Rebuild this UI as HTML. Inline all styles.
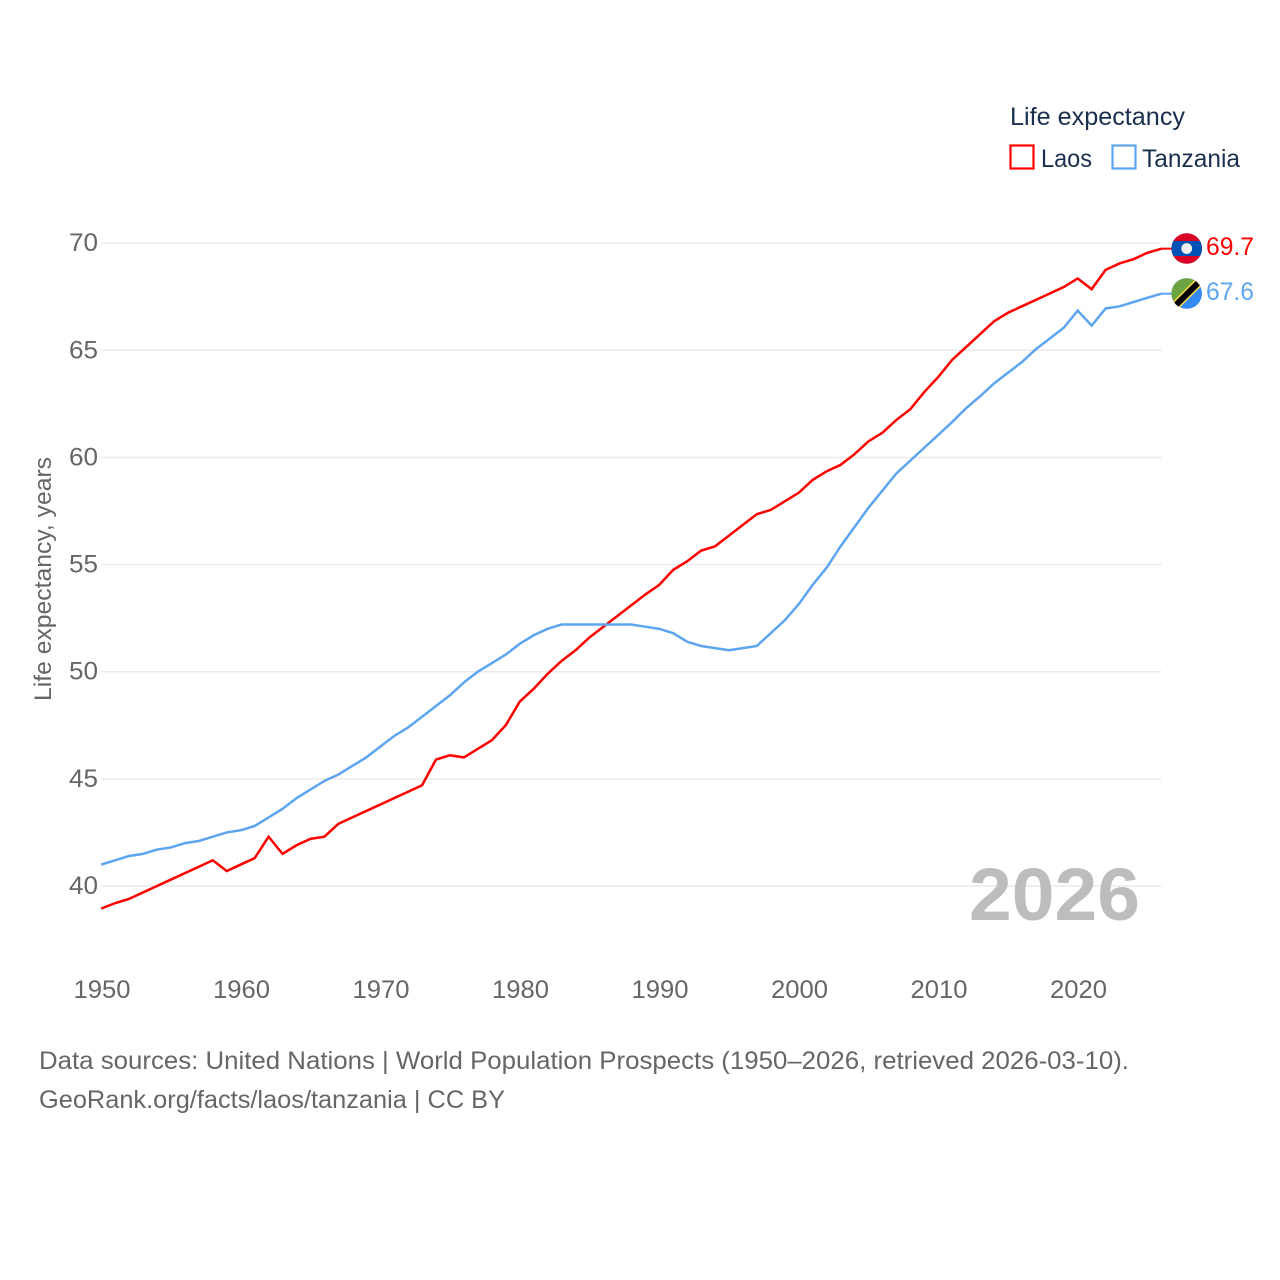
<!DOCTYPE html>
<html lang="en">
<head>
<meta charset="utf-8">
<title>Life expectancy: Laos and Tanzania</title>
<style>
  html, body { margin: 0; padding: 0; background: #fff; }
  svg { display: block; }
  text { font-family: "Liberation Sans", sans-serif; }
</style>
</head>
<body>
<svg id="chart" xmlns="http://www.w3.org/2000/svg" width="1280" height="1280" viewBox="0 0 1280 1280">
  <defs>
    <clipPath id="clip-la"><circle cx="1186.7" cy="248.5" r="15.3"></circle></clipPath>
    <clipPath id="clip-tz"><circle cx="1186.7" cy="293.5" r="15.3"></circle></clipPath>
  </defs>
  <rect x="0" y="0" width="1280" height="1280" fill="#ffffff"></rect>
  <g id="grid"></g>
  <text x="969" y="920" font-size="74" font-weight="700" fill="#bdbdbd" textLength="171" lengthAdjust="spacingAndGlyphs">2026</text>
  <g id="y-ticks"></g>
  <g id="x-ticks"></g>
  <text transform="translate(51,579) rotate(-90)" text-anchor="middle" font-size="24" fill="#666666" textLength="244" lengthAdjust="spacingAndGlyphs">Life expectancy, years</text>
  <g id="series"></g>

  <g>
    <text x="1010" y="125" font-size="25" fill="#1a2f4d" textLength="175" lengthAdjust="spacingAndGlyphs">Life expectancy</text>
    <rect x="1010.5" y="145.5" width="23" height="23" fill="none" stroke="#ff0000" stroke-width="2.2"></rect>
    <text x="1041" y="167" font-size="25" fill="#1a2f4d" textLength="51" lengthAdjust="spacingAndGlyphs">Laos</text>
    <rect x="1112.5" y="145.5" width="23" height="23" fill="none" stroke="#5da5f0" stroke-width="2.2"></rect>
    <text x="1142" y="167" font-size="25" fill="#1a2f4d" textLength="98" lengthAdjust="spacingAndGlyphs">Tanzania</text>
  </g>

  <g clip-path="url(#clip-la)">
    <rect x="1170" y="232" width="34" height="34" fill="#d80027"></rect>
    <rect x="1170" y="241" width="34" height="15" fill="#0052b4"></rect>
    <circle cx="1186.7" cy="248.5" r="5.4" fill="#f0f0f0"></circle>
  </g>
  <g clip-path="url(#clip-tz)">
    <rect x="1170" y="277" width="34" height="34" fill="#338af3"></rect>
    <polygon points="1170,277 1204,277 1170,311" fill="#6da544"></polygon>
    <line x1="1170" y1="311" x2="1204" y2="277" stroke="#ffda44" stroke-width="9"></line>
    <line x1="1170" y1="311" x2="1204" y2="277" stroke="#000000" stroke-width="6"></line>
  </g>
  <text id="value-laos" x="1206" y="255" font-size="25" fill="#ff0000" textLength="48" lengthAdjust="spacingAndGlyphs"></text>
  <text id="value-tz" x="1206" y="300" font-size="25" fill="#5da5f0" textLength="48" lengthAdjust="spacingAndGlyphs"></text>

  <text x="39" y="1069" font-size="25" fill="#666666" textLength="1090" lengthAdjust="spacingAndGlyphs">Data sources: United Nations | World Population Prospects (1950–2026, retrieved 2026-03-10).</text>
  <text x="39" y="1108" font-size="25" fill="#666666" textLength="466" lengthAdjust="spacingAndGlyphs">GeoRank.org/facts/laos/tanzania | CC BY</text>
</svg>
<script>
const years = [1950,1951,1952,1953,1954,1955,1956,1957,1958,1959,
  1960,1961,1962,1963,1964,1965,1966,1967,1968,1969,
  1970,1971,1972,1973,1974,1975,1976,1977,1978,1979,
  1980,1981,1982,1983,1984,1985,1986,1987,1988,1989,
  1990,1991,1992,1993,1994,1995,1996,1997,1998,1999,
  2000,2001,2002,2003,2004,2005,2006,2007,2008,2009,
  2010,2011,2012,2013,2014,2015,2016,2017,2018,2019,
  2020,2021,2022,2023,2024,2025,2026];
const laos = [38.95,39.2,39.4,39.7,40.0,40.3,40.6,40.9,41.2,40.7,
  41.0,41.3,42.3,41.5,41.9,42.2,42.3,42.9,43.2,43.5,
  43.8,44.1,44.4,44.7,45.9,46.1,46.0,46.4,46.8,47.5,
  48.6,49.2,49.9,50.5,51.0,51.6,52.1,52.6,53.1,53.6,
  54.05,54.75,55.15,55.65,55.85,56.35,56.85,57.35,57.55,57.95,
  58.35,58.95,59.35,59.65,60.15,60.75,61.15,61.75,62.25,63.05,
  63.75,64.55,65.15,65.75,66.35,66.75,67.05,67.35,67.65,67.95,
  68.35,67.85,68.75,69.05,69.25,69.55,69.74];
const tanzania = [41.0,41.2,41.4,41.5,41.7,41.8,42.0,42.1,42.3,42.5,
  42.6,42.8,43.2,43.6,44.1,44.5,44.9,45.2,45.6,46.0,
  46.5,47.0,47.4,47.9,48.4,48.9,49.5,50.0,50.4,50.8,
  51.3,51.7,52.0,52.2,52.2,52.2,52.2,52.2,52.2,52.1,
  52.0,51.8,51.4,51.2,51.1,51.0,51.1,51.2,51.8,52.4,
  53.15,54.05,54.85,55.85,56.75,57.65,58.45,59.25,59.85,60.45,
  61.05,61.65,62.3,62.85,63.45,63.95,64.45,65.05,65.55,66.05,
  66.85,66.15,66.95,67.05,67.25,67.45,67.64];
const yTickLabels = [40,45,50,55,60,65,70];
const xTickLabels = [1950,1960,1970,1980,1990,2000,2010,2020];

const NS = 'http://www.w3.org/2000/svg';
function xScale(year) { return 101.2 + (year - 1950) * 13.95; }
function yScale(value) { return 886 - (value - 40) * 21.43; }
function make(tag, parentId) {
  const el = document.createElementNS(NS, tag);
  document.getElementById(parentId).appendChild(el);
  return el;
}

yTickLabels.forEach(function (tick) {
  const gridLine = make('line', 'grid');
  
  
  gridLine.setAttribute('x1', xScale(1950));
  gridLine.setAttribute('x2', xScale(2026));
  gridLine.setAttribute('y1', yScale(tick));
  gridLine.setAttribute('y2', yScale(tick));
  gridLine.setAttribute('stroke', '#eaeaea');
  gridLine.setAttribute('stroke-width', '1.4');

  const label = make('text', 'y-ticks');
  
  
  label.setAttribute('x', 98);
  label.setAttribute('y', yScale(tick) + 8);
  label.setAttribute('text-anchor', 'end');
  label.setAttribute('font-size', '25');
  label.setAttribute('fill', '#666666');
  label.setAttribute('textLength', '29');
  label.setAttribute('lengthAdjust', 'spacingAndGlyphs');
  label.textContent = tick;
});

xTickLabels.forEach(function (tick) {
  const label = make('text', 'x-ticks');
  
  
  label.setAttribute('x', xScale(tick) + 0.8);
  label.setAttribute('y', 998);
  label.setAttribute('text-anchor', 'middle');
  label.setAttribute('font-size', '25');
  label.setAttribute('fill', '#666666');
  label.setAttribute('textLength', '57');
  label.setAttribute('lengthAdjust', 'spacingAndGlyphs');
  label.textContent = tick;
});

function drawSeries(values, color, lineName, connectorName) {
  const points = values.map(function (v, i) {
    return xScale(years[i]).toFixed(2) + ',' + yScale(v).toFixed(2);
  }).join(' ');
  const line = make('polyline', 'series');
  
  
  line.setAttribute('points', points);
  line.setAttribute('fill', 'none');
  line.setAttribute('stroke', color);
  line.setAttribute('stroke-width', '2.5');
  line.setAttribute('stroke-linejoin', 'miter');

  const lastValue = values[values.length - 1];
  const connector = make('line', 'series');
  
  
  connector.setAttribute('x1', xScale(years[years.length - 1]));
  connector.setAttribute('x2', 1174);
  connector.setAttribute('y1', yScale(lastValue));
  connector.setAttribute('y2', yScale(lastValue));
  connector.setAttribute('stroke', color);
  connector.setAttribute('stroke-width', '2');
}

drawSeries(laos, '#ff0000', 'series-line-laos', 'connector-laos');
drawSeries(tanzania, '#5da5f0', 'series-line-tanzania', 'connector-tanzania');

document.getElementById('value-laos').textContent = laos[laos.length - 1].toFixed(1);
document.getElementById('value-tz').textContent = tanzania[tanzania.length - 1].toFixed(1);
</script>
</body>
</html>
